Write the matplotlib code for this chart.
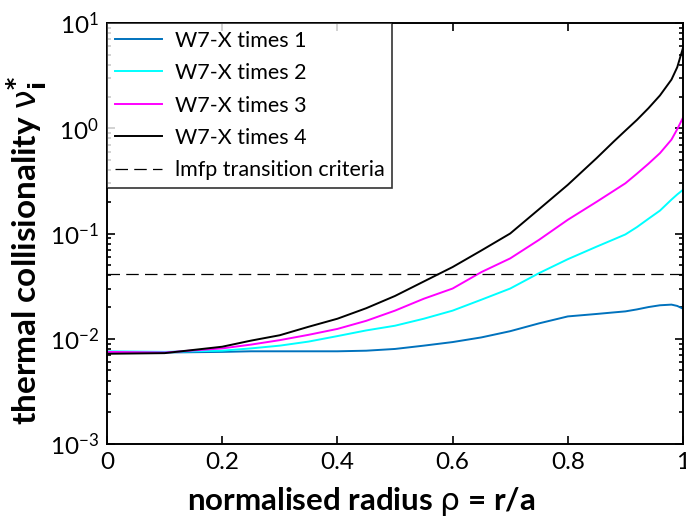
import numpy as np
import matplotlib
matplotlib.use("Agg")
import matplotlib.pyplot as plt
from matplotlib.ticker import LogLocator, FixedLocator

plt.rcParams['font.family'] = ['Lato', 'DejaVu Sans']
plt.rcParams['mathtext.fontset'] = 'dejavusans'

# radio normalizado y colisionalidad termica
rho = [0, 0.1, 0.2, 0.25, 0.3, 0.35, 0.4, 0.45, 0.5, 0.55, 0.6, 0.65,
       0.7, 0.75, 0.8, 0.85, 0.88, 0.9, 0.92, 0.94, 0.96, 0.98, 0.99, 1.0]

times1 = [0.0074, 0.0074, 0.0075, 0.0076, 0.0076, 0.0076, 0.0076, 0.0077,
          0.0080, 0.0086, 0.0093, 0.0103, 0.0118, 0.0140, 0.0163, 0.0172,
          0.0178, 0.0182, 0.0190, 0.0200, 0.0208, 0.0211, 0.0205, 0.0193]
times2 = [0.0076, 0.0075, 0.0077, 0.0081, 0.0086, 0.0094, 0.0106, 0.0120,
          0.0133, 0.0155, 0.0185, 0.0235, 0.030, 0.042, 0.057, 0.075,
          0.088, 0.098, 0.115, 0.138, 0.165, 0.21, 0.235, 0.26]
times3 = [0.0075, 0.0074, 0.0081, 0.0088, 0.0097, 0.0109, 0.0124, 0.0148,
          0.0185, 0.024, 0.030, 0.043, 0.058, 0.087, 0.135, 0.20,
          0.255, 0.30, 0.37, 0.46, 0.58, 0.78, 0.98, 1.26]
times4 = [0.0072, 0.0073, 0.0084, 0.0096, 0.0108, 0.0130, 0.0155, 0.0195,
          0.0255, 0.035, 0.048, 0.069, 0.10, 0.17, 0.29, 0.52,
          0.75, 0.95, 1.2, 1.55, 2.05, 2.9, 3.8, 5.8]
lmfp = 0.041

fig = plt.figure(figsize=(6.86, 5.25), dpi=100)
ax = fig.add_axes([107/686, 1 - 444/525, 576/686, 421/525])

ax.plot(rho, times1, color='#0072BD', lw=1.4, label='W7-X times 1')
ax.plot(rho, times2, color='#00FFFF', lw=1.4, label='W7-X times 2')
ax.plot(rho, times3, color='#FF00FF', lw=1.4, label='W7-X times 3')
ax.plot(rho, times4, color='black', lw=1.4, label='W7-X times 4')
ax.axhline(lmfp, color='black', lw=0.9, ls=(0, (10, 5)),
           label='lmfp transition criteria')

ax.set_yscale('log')
ax.set_xlim(0, 1)
ax.set_ylim(1e-3, 1e1)
ax.xaxis.set_major_locator(FixedLocator([0, 0.2, 0.4, 0.6, 0.8, 1.0]))
ax.set_xticklabels(['0', '0.2', '0.4', '0.6', '0.8', '1'])
ax.yaxis.set_major_locator(LogLocator(base=10, numticks=10))
ax.yaxis.set_minor_locator(LogLocator(base=10, subs=np.arange(2, 10), numticks=10))

ax.tick_params(which='both', direction='in', top=True, right=True,
               labelsize=17.5, width=1.2, pad=6)
ax.tick_params(which='major', length=6)
ax.tick_params(which='minor', length=3)
for s in ax.spines.values():
    s.set_linewidth(1.4)

ax.set_xlabel(r'normalised radius $\mathrm{\rho}$ = r/a', fontsize=22.5,
              fontweight='bold')
ax.xaxis.set_label_coords(0.441, -0.098)
ax.set_ylabel(r'thermal collisionality $\mathrm{\nu}_{\mathbf{i}}^{\mathbf{*}}$',
              fontsize=24, fontweight='bold')
ax.yaxis.set_label_coords(-0.1, 0.46)

leg = ax.legend(loc='upper left', fontsize=15.5, frameon=True, fancybox=False,
                borderaxespad=0, handlelength=2.2, labelspacing=0.58,
                borderpad=0.35, handletextpad=0.6)
leg.get_frame().set_edgecolor('black')
leg.get_frame().set_linewidth(1.2)

plt.savefig('out.png', dpi=100)
